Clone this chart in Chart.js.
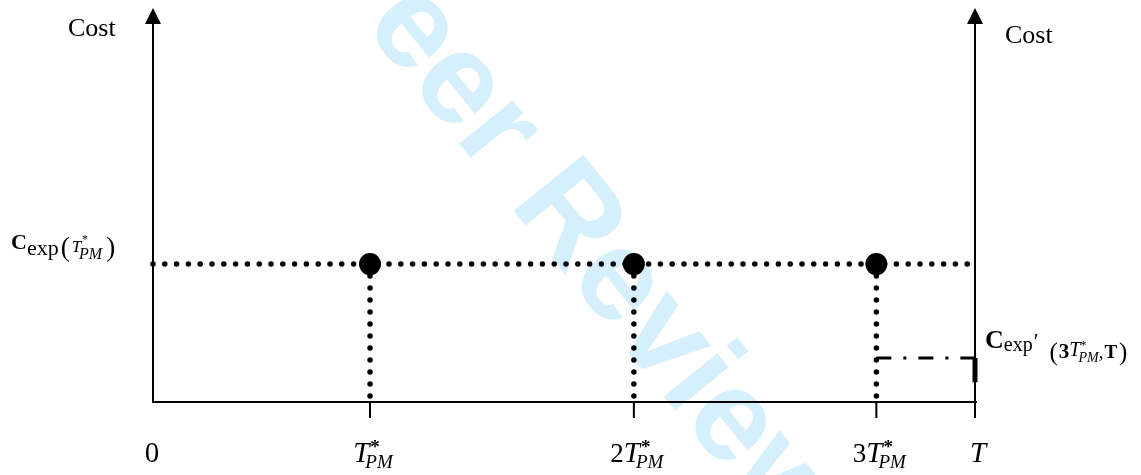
<!DOCTYPE html>
<html>
<head>
<meta charset="utf-8">
<script src="https://cdn.jsdelivr.net/npm/chart.js@4.4.0/dist/chart.umd.min.js"></script>
<style>
  html, body { margin: 0; padding: 0; background: #fff; }
  #wrap { width: 1141px; height: 475px; }
</style>
</head>
<body>
<div id="wrap"><canvas id="chart" width="1141" height="475"></canvas></div>
<script>
// time axis runs 0..10 (10 = horizon T), cost axis 0..10
const tickPos = [0, 2.64, 5.85, 8.80, 10];
const tickLabels = ['0', 'T*PM', '2T*PM', '3T*PM', 'T'];
const pmTimes = [2.64, 5.85, 8.80];
const pmCost = [3.61, 3.61, 3.61];
const horizonT = 10;
const lastStep = [1.15, 0.52]; // dash-dot level, bottom of the step at T
const axisTitles = ['Cost', 'Cost'];
const watermark = 'For Peer Review';

const serif = '"Liberation Serif", "Times New Roman", serif';

// draw a row of text pieces (sub/superscripts), returns width
function drawRuns(ctx, runs, x, y, draw) {
  let cx = x;
  runs.forEach(r => {
    ctx.font = r.f;
    const px = cx + (r.dx || 0);
    if (draw) ctx.fillText(r.t, px, y + (r.dy || 0));
    if (!r.stay) cx = px + ctx.measureText(r.t).width;
  });
  return cx - x;
}

function tickRuns(label) {
  const m = label.match(/^(\d*)(T)(\*PM)?$/);
  if (!m) return [{t: label, f: '29px ' + serif}];
  const r = [];
  if (m[1]) r.push({t: m[1], f: '27px ' + serif});
  r.push({t: 'T', f: 'italic 29px ' + serif});
  if (m[3]) {
    r.push({t: '*', f: 'bold 19px ' + serif, dx: 1, dy: -9, stay: true});
    r.push({t: 'PM', f: 'italic 19px ' + serif, dx: -4, dy: 6});
  }
  return r;
}

const leftCostRuns = [
  {t: 'C', f: 'bold 22px ' + serif},
  {t: 'exp', f: '22px ' + serif, dy: 6},
  {t: '(', f: '27px ' + serif, dx: 2, dy: 7},
  {t: 'T', f: 'italic 17px ' + serif, dx: 2, dy: 3},
  {t: '*', f: '12px ' + serif, dx: 1, dy: -6, stay: true},
  {t: 'PM', f: 'italic 16px ' + serif, dx: -2, dy: 10},
  {t: ')', f: '27px ' + serif, dx: 4, dy: 7}
];

const rightCostRuns = [
  {t: 'C', f: 'bold 26px ' + serif},
  {t: 'exp', f: '20px ' + serif, dy: 3},
  {t: '\u2032', f: '22px ' + serif, dx: 1, dy: 0},
  {t: '(', f: '25px ' + serif, dx: 11, dy: 12},
  {t: '3', f: 'bold 21px ' + serif, dx: 1, dy: 10},
  {t: 'T', f: 'italic 20px ' + serif, dy: 8},
  {t: '*', f: '12px ' + serif, dy: 1, stay: true},
  {t: 'PM', f: 'italic 14px ' + serif, dx: -2, dy: 14},
  {t: ',', f: '19px ' + serif, dy: 10},
  {t: 'T', f: 'bold 19px ' + serif, dx: 1, dy: 10},
  {t: ')', f: '25px ' + serif, dx: 2, dy: 12}
];

const diagram = {
  id: 'diagram',
  beforeDatasetsDraw(chart) {
    const {ctx, scales: {x, y}} = chart;

    // faint watermark
    ctx.save();
    ctx.font = 'bold 130px "Liberation Sans", Arial, sans-serif';
    ctx.fillStyle = 'rgb(213,240,252)';
    const ang = 51 * Math.PI / 180;
    const skip = ctx.measureText('For ').width;
    ctx.translate(308 - skip * Math.cos(ang), -43 - skip * Math.sin(ang));
    ctx.rotate(ang);
    ctx.fillText(watermark, 0, 0);
    ctx.restore();

    const x0 = x.getPixelForValue(0);
    const xT = x.getPixelForValue(horizonT);
    const yB = y.getPixelForValue(0);
    const tip = 8;

    ctx.save();
    ctx.strokeStyle = '#000';
    ctx.fillStyle = '#000';
    ctx.lineWidth = 2;
    [[x0, yB], [xT, yB + 10]].forEach(([px, bottom]) => {
      ctx.beginPath();
      ctx.moveTo(px, bottom);
      ctx.lineTo(px, tip + 12);
      ctx.stroke();
      ctx.beginPath();
      ctx.moveTo(px, tip);
      ctx.lineTo(px - 8, tip + 16);
      ctx.lineTo(px + 8, tip + 16);
      ctx.closePath();
      ctx.fill();
    });
    ctx.beginPath();
    ctx.moveTo(x0 - 1, yB);
    ctx.lineTo(xT + 2, yB);
    ctx.stroke();
    tickPos.forEach(v => {
      if (v === 0) return;
      const px = x.getPixelForValue(v);
      ctx.beginPath();
      ctx.moveTo(px, yB);
      ctx.lineTo(px, yB + 16);
      ctx.stroke();
    });
    ctx.restore();
  },
  afterDatasetsDraw(chart) {
    const {ctx, scales: {x, y}} = chart;
    ctx.save();
    ctx.fillStyle = '#000';
    ctx.textBaseline = 'alphabetic';

    ctx.font = '26px ' + serif;
    ctx.fillText(axisTitles[0], 68, 36);
    ctx.fillText(axisTitles[1], 1005, 43);

    tickPos.forEach((v, i) => {
      const runs = tickRuns(tickLabels[i]);
      const w = drawRuns(ctx, runs, 0, 0, false);
      const shift = v === 0 ? -1 : 3;
      drawRuns(ctx, runs, x.getPixelForValue(v) - w / 2 + shift, 462, true);
    });

    drawRuns(ctx, leftCostRuns, 11, y.getPixelForValue(pmCost[0]) - 15, true);
    drawRuns(ctx, rightCostRuns, 985, y.getPixelForValue(lastStep[0]) - 10, true);
    ctx.restore();
  }
};

const lineBase = {
  showLine: true, pointRadius: 0, fill: false, tension: 0,
  borderColor: '#000', clip: false
};

const datasets = [
  Object.assign({}, lineBase, {
    data: [{x: 0, y: pmCost[0]}, {x: horizonT, y: pmCost[0]}],
    borderWidth: 5.5, borderDash: [0, 11.8], borderCapStyle: 'round'
  })
];
pmTimes.forEach((t, i) => {
  datasets.push(Object.assign({}, lineBase, {
    data: [{x: t, y: pmCost[i]}, {x: t, y: 0}],
    borderWidth: 5.5, borderDash: [0, 12], borderCapStyle: 'round'
  }));
});
datasets.push(Object.assign({}, lineBase, {
  data: [{x: pmTimes[2], y: lastStep[0]}, {x: horizonT, y: lastStep[0]}],
  borderWidth: 3, borderDash: [15, 12, 3, 12], borderCapStyle: 'butt'
}));
datasets.push(Object.assign({}, lineBase, {
  data: [{x: horizonT, y: lastStep[0]}, {x: horizonT, y: lastStep[1]}],
  borderWidth: 5
}));
datasets.push({
  data: pmTimes.map((t, i) => ({x: t, y: pmCost[i]})),
  showLine: false, pointRadius: 11, pointBackgroundColor: '#000',
  pointBorderWidth: 0, clip: false
});

new Chart(document.getElementById('chart'), {
  type: 'scatter',
  data: {datasets: datasets},
  options: {
    responsive: false,
    animation: false,
    devicePixelRatio: 1,
    layout: {padding: {left: 153, right: 166, top: 20, bottom: 73}},
    plugins: {legend: {display: false}, tooltip: {enabled: false}},
    scales: {
      x: {type: 'linear', min: 0, max: 10, display: false},
      y: {type: 'linear', min: 0, max: 10, display: false}
    }
  },
  plugins: [diagram]
});
</script>
</body>
</html>
